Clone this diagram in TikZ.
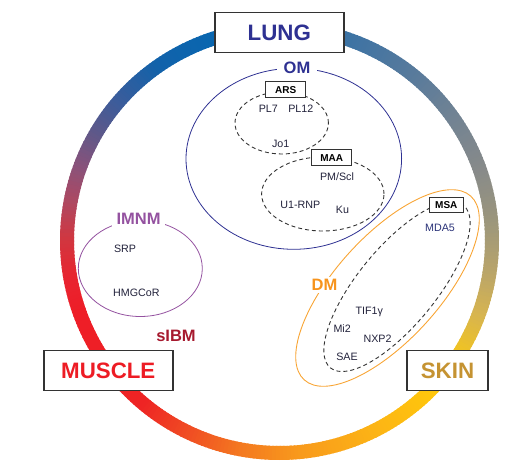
\documentclass[tikz,border=0pt]{standalone}
\usepackage{fontspec}
\setmainfont{Liberation Sans}
\definecolor{boxgray}{HTML}{333333}
\definecolor{navy}{HTML}{2E3192}
\definecolor{musclered}{HTML}{ED1C24}
\definecolor{skingold}{HTML}{C59332}
\definecolor{imnmcol}{HTML}{9452A0}
\definecolor{sibmcol}{HTML}{A6192E}
\definecolor{dmcol}{HTML}{F7941D}
\definecolor{dmline}{HTML}{F8A535}
\definecolor{agcol}{HTML}{22223B}
\definecolor{mdacol}{HTML}{2A3278}
\definecolor{dashcol}{HTML}{333333}
% ring colour stops
\definecolor{r90}{HTML}{1E6AAA}
\definecolor{r105}{HTML}{0767B1}
\definecolor{r125}{HTML}{1262AA}
\definecolor{r140}{HTML}{3D5C9A}
\definecolor{r150}{HTML}{5F5889}
\definecolor{r160}{HTML}{8A527A}
\definecolor{r170}{HTML}{B04860}
\definecolor{r180}{HTML}{D2363F}
\definecolor{r190}{HTML}{E82430}
\definecolor{r200}{HTML}{EE1D27}
\definecolor{r230}{HTML}{EE2424}
\definecolor{r245}{HTML}{F04E23}
\definecolor{r260}{HTML}{F47A20}
\definecolor{r275}{HTML}{F8991C}
\definecolor{r295}{HTML}{FCB216}
\definecolor{r315}{HTML}{FFC70C}
\definecolor{r328}{HTML}{F2C421}
\definecolor{r340}{HTML}{D6B451}
\definecolor{r352}{HTML}{B8A46A}
\definecolor{r365}{HTML}{9C967C}
\definecolor{r380}{HTML}{878A8A}
\definecolor{r395}{HTML}{728393}
\definecolor{r410}{HTML}{5A7B9B}
\definecolor{r425}{HTML}{4575A2}
\definecolor{r440}{HTML}{3070A6}
\begin{document}
\begin{tikzpicture}[x=1pt,y=1pt,
  bigbox/.style={draw=boxgray, line width=1.4pt, fill=white, minimum height=40pt,
    inner sep=0pt, font=\fontsize{22.3}{24}\selectfont\bfseries, text height=16pt, text depth=0pt},
  tagbox/.style={draw=boxgray, line width=0.9pt, fill=white, inner sep=0pt,
    font=\fontsize{10}{12}\selectfont\bfseries, text height=7.2pt, text depth=0pt},
  ag/.style={font=\fontsize{10.7}{12}\selectfont, text=agcol, inner sep=0pt,
    text height=7.7pt, text depth=0pt},
  grp/.style={font=\fontsize{16.5}{18}\selectfont\bfseries, fill=white, inner ysep=2pt,
    text height=11.8pt, text depth=0pt},
  dashell/.style={draw=dashcol, line width=0.9pt, dash pattern=on 4pt off 3pt},
]
\useasboundingbox (0,0) rectangle (517,-468);

% gradient ring
\begin{scope}[shift={(279.5,-240.5)}]
\foreach \a/\b/\ca/\cb in {90/105/r90/r105, 105/125/r105/r125, 125/140/r125/r140,
  140/150/r140/r150, 150/160/r150/r160, 160/170/r160/r170, 170/180/r170/r180,
  180/190/r180/r190, 190/200/r190/r200, 200/230/r200/r230, 230/245/r230/r245,
  245/260/r245/r260, 260/275/r260/r275, 275/295/r275/r295, 295/315/r295/r315,
  315/328/r315/r328, 328/340/r328/r340, 340/352/r340/r352, 352/365/r352/r365,
  365/380/r365/r380, 380/395/r380/r395, 395/410/r395/r410, 410/425/r410/r425,
  425/440/r425/r440, 440/450/r440/r90}{
  \pgfmathtruncatemacro\n{\b-\a}
  \foreach \i in {1,...,\n}{
    \pgfmathsetmacro\t{\a+\i-1}
    \pgfmathsetmacro\e{\a+\i+0.4}
    \pgfmathsetmacro\p{100-100*(\i-0.5)/\n}
    \draw[line width=14pt, color=\ca!\p!\cb] (\t:212.5pt)
      arc[start angle=\t, end angle=\e, radius=212.5pt];
  }
}
\end{scope}

% organ boxes
\node[bigbox, minimum width=129pt, text=navy] (lung) at (279.3,-32.7) {LUNG};
\node[bigbox, minimum width=129pt, text=musclered] (muscle) at (108.3,-370.5) {MUSCLE};
\node[bigbox, minimum width=81pt, text=skingold] (skin) at (447.5,-370.5) {SKIN};

% OM
\draw[navy, line width=0.8pt] (293.8,-158.8) ellipse [x radius=107.8pt, y radius=90.5pt];
\node[grp, text=navy, inner xsep=7pt] (om) at (297,-68) {OM};

% ARS
\draw[dashell] (281.7,-123) ellipse [x radius=46.7pt, y radius=31pt];
\node[tagbox, minimum width=40pt, minimum height=15.6pt] (ars) at (285.7,-89.5) {ARS};
\node[ag] (pl7) at (268.3,-109) {PL7};
\node[ag] (pl12) at (300.8,-109) {PL12};
\node[ag] (jo1) at (280.7,-143.5) {Jo1};

% MAA
\draw[dashell] (322.8,-194) ellipse [x radius=61.2pt, y radius=37pt];
\node[tagbox, minimum width=40pt, minimum height=16.4pt] (maa) at (331.7,-157.5) {MAA};
\node[ag] (pmscl) at (337,-176.8) {PM/Scl};
\node[ag] (u1rnp) at (300.3,-204.8) {U1-RNP};
\node[ag] (ku) at (342.5,-209.2) {Ku};

% IMNM
\draw[imnmcol, line width=0.8pt] (140.3,-268.5) ellipse [x radius=62pt, y radius=48pt];
\node[grp, text=imnmcol, inner xsep=5pt] (imnm) at (138.5,-219) {IMNM};
\node[ag] (srp) at (125,-248.3) {SRP};
\node[ag] (hmgcor) at (136.3,-292.2) {HMGCoR};

% sIBM
\node[grp, text=sibmcol, fill=none] (sibm) at (176,-336) {sIBM};

% DM
\draw[dmline, line width=0.9pt, rotate around={47.8:(387.5,-288)}] (387.5,-288)
  ellipse [x radius=124pt, y radius=52pt];
\node[grp, text=dmcol, inner xsep=3pt] (dm) at (324.5,-285) {DM};

% MSA
\draw[dashell, rotate around={50.6:(397,-286.7)}] (397,-286.7)
  ellipse [x radius=105pt, y radius=39pt];
\node[tagbox, minimum width=34pt, minimum height=14.6pt] (msa) at (446.3,-205) {MSA};
\node[ag, text=mdacol] (mda5) at (440,-227.5) {MDA5};
\node[ag] (tif) at (369.2,-310.5) {TIF1γ};
\node[ag] (mi2) at (342.2,-328.3) {Mi2};
\node[ag] (nxp2) at (377.5,-338.2) {NXP2};
\node[ag] (sae) at (347,-356.7) {SAE};
\end{tikzpicture}
\end{document}
